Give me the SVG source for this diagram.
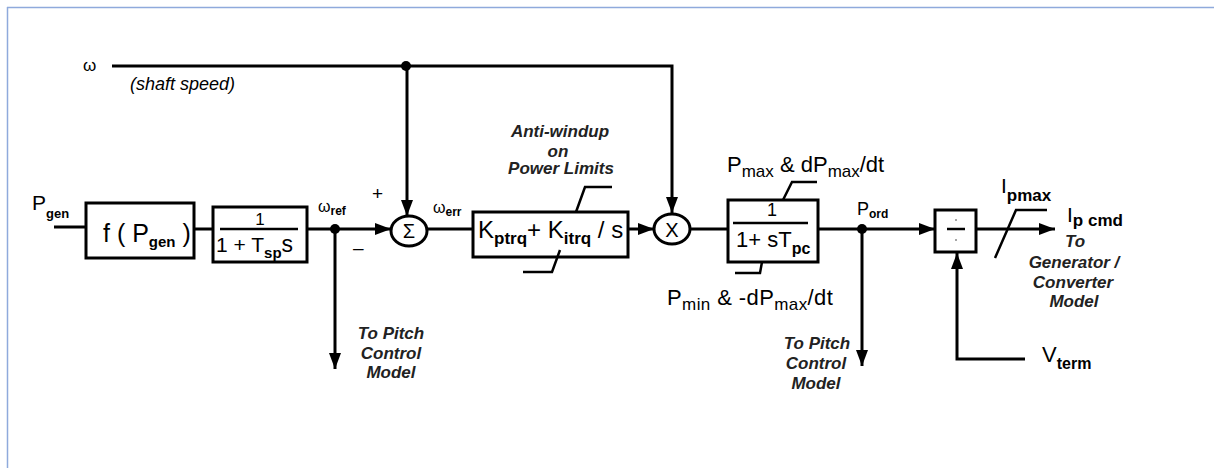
<svg xmlns="http://www.w3.org/2000/svg" width="1214" height="468" viewBox="0 0 1214 468">
<defs>
<marker id="ah" markerUnits="userSpaceOnUse" markerWidth="18" markerHeight="14" refX="16" refY="6" orient="auto">
<path d="M0,0 L16,6 L0,12 z" fill="#000"/>
</marker>
<style>
.ln{stroke:#000;stroke-width:3;fill:none}
.lim{stroke:#000;stroke-width:2.5;fill:none}
.bx{stroke:#000;stroke-width:3;fill:#fff}
.t{font-family:"Liberation Sans",Arial,sans-serif;fill:#000}
.it{font-family:"Liberation Sans",Arial,sans-serif;font-style:italic;font-weight:bold;font-size:17px;fill:#222}
</style>
</defs>
<rect width="1214" height="468" fill="#fff"/>
<g id="frame">
<line x1="7" y1="7.5" x2="1214" y2="7.5" stroke="#8faadc" stroke-width="1.5"/>
<line x1="7.5" y1="7" x2="7.5" y2="468" stroke="#8faadc" stroke-width="1.5"/>
</g>

<g id="connectors">
<polyline class="ln" points="112,66 672,66 672,213" marker-end="url(#ah)"/>
<line class="ln" x1="407" y1="66" x2="407" y2="216" marker-end="url(#ah)"/>
<circle cx="406" cy="66" r="5" fill="#000"/>
<line class="ln" x1="54" y1="227" x2="86" y2="227"/>
<line class="ln" x1="194" y1="229" x2="213" y2="229"/>
<line class="ln" x1="307" y1="229" x2="391" y2="229" marker-end="url(#ah)"/>
<circle cx="335" cy="229" r="5" fill="#000"/>
<line class="ln" x1="335" y1="229" x2="335" y2="369" marker-end="url(#ah)"/>
<line class="ln" x1="427" y1="229" x2="473" y2="229"/>
<line class="ln" x1="628" y1="229" x2="654" y2="229" marker-end="url(#ah)"/>
<line class="ln" x1="690" y1="229" x2="728" y2="229"/>
<line class="ln" x1="818" y1="229" x2="935" y2="229" marker-end="url(#ah)"/>
<circle cx="862" cy="229" r="5" fill="#000"/>
<line class="ln" x1="862" y1="229" x2="862" y2="366" marker-end="url(#ah)"/>
<line class="ln" x1="976" y1="229" x2="1055" y2="229" marker-end="url(#ah)"/>
<polyline class="ln" points="1025,359 957,359 957,253" marker-end="url(#ah)"/>
</g>

<g id="omega-input">
<text class="t" x="83" y="71" font-size="17">ω</text>
<text class="t" x="130" y="90" font-size="18" font-style="italic" fill="#222">(shaft speed)</text>
</g>

<g id="pgen-input">
<text class="t" x="32" y="210" font-size="21">P<tspan font-size="13" font-weight="bold" dy="8">gen</tspan></text>
</g>

<g id="f-block">
<rect class="bx" x="86" y="203" width="108" height="55"/>
<text class="t" x="103" y="242" font-size="25">f ( P<tspan font-size="15" font-weight="bold" dy="5">gen</tspan><tspan dy="-5"> )</tspan></text>
</g>

<g id="lag-block">
<rect class="bx" x="213" y="207" width="94" height="55"/>
<text class="t" x="260" y="225" font-size="17" text-anchor="middle">1</text>
<line x1="220" y1="229" x2="298" y2="229" stroke="#000" stroke-width="2.5"/>
<text class="t" x="216" y="252" font-size="21">1 + T<tspan font-size="15" font-weight="bold" dy="6">sp</tspan><tspan font-size="23" dy="-6">s</tspan></text>
</g>

<g id="wref-label">
<text class="t" x="318" y="212" font-size="16">ω<tspan font-size="12" font-weight="bold" dy="3">ref</tspan></text>
<text class="t" x="372" y="200" font-size="19">+</text>
<text class="t" x="353" y="254" font-size="19">–</text>
</g>

<g id="sum">
<ellipse class="bx" cx="409" cy="231" rx="18" ry="15"/>
<text class="t" x="409" y="238" font-size="20" text-anchor="middle">Σ</text>
</g>

<g id="werr-label">
<text class="t" x="433" y="213" font-size="16">ω<tspan font-size="12" font-weight="bold" dy="3">err</tspan></text>
</g>

<g id="pi-block">
<rect class="bx" x="473" y="212" width="155" height="45"/>
<text class="t" x="478" y="238" font-size="24">K<tspan font-size="17" font-weight="bold" dy="6">ptrq</tspan><tspan dy="-6">+ K</tspan><tspan font-size="17" font-weight="bold" dy="6">itrq</tspan><tspan dy="-6"> / s</tspan></text>
<polyline class="lim" points="576,212 585,187 612,187"/>
<polyline class="lim" points="560,250 552,272 523,272"/>
<text class="it" x="560" y="137" font-size="18" text-anchor="middle">Anti-windup</text>
<text class="it" x="558" y="157" font-size="18" text-anchor="middle">on</text>
<text class="it" x="561" y="174" font-size="18" text-anchor="middle">Power Limits</text>
</g>

<g id="multiplier">
<ellipse class="bx" cx="672" cy="229" rx="18" ry="15"/>
<text class="t" x="672" y="237" font-size="20" text-anchor="middle">X</text>
</g>

<g id="pc-block">
<rect class="bx" x="728" y="200" width="90" height="62"/>
<text class="t" x="772" y="216" font-size="18" text-anchor="middle">1</text>
<line x1="733" y1="223" x2="808" y2="223" stroke="#000" stroke-width="2.5"/>
<text class="t" x="736" y="247" font-size="22">1+ sT<tspan font-size="16" font-weight="bold" dy="7">pc</tspan></text>
<polyline class="lim" points="783,200 792,182 817,182"/>
<polyline class="lim" points="762,262 760,273 735,273"/>
<text class="t" x="727" y="172" font-size="22">P<tspan font-size="17" dy="5">max</tspan><tspan dy="-5"> &amp; dP</tspan><tspan font-size="17" dy="5">max</tspan><tspan dy="-5">/dt</tspan></text>
<text class="t" x="667" y="305" font-size="22" letter-spacing="0.4">P<tspan font-size="17" dy="5">min</tspan><tspan dy="-5"> &amp; -dP</tspan><tspan font-size="17" dy="5">max</tspan><tspan dy="-5">/dt</tspan></text>
</g>

<g id="pord-label">
<text class="t" x="857" y="215" font-size="18">P<tspan font-size="12" font-weight="bold" dy="3">ord</tspan></text>
</g>

<g id="pitch-out-1">
<text class="it" x="391" y="339" text-anchor="middle">To Pitch</text>
<text class="it" x="391" y="359" text-anchor="middle">Control</text>
<text class="it" x="391" y="378" text-anchor="middle">Model</text>
</g>

<g id="pitch-out-2">
<text class="it" x="817" y="349" text-anchor="middle">To Pitch</text>
<text class="it" x="816" y="369" text-anchor="middle">Control</text>
<text class="it" x="816" y="389" text-anchor="middle">Model</text>
</g>

<g id="divider">
<rect class="bx" x="935" y="210" width="41" height="42"/>
<line x1="947" y1="229" x2="965" y2="229" stroke="#000" stroke-width="2.5"/>
<circle cx="956" cy="220" r="1" fill="#888"/>
<circle cx="956" cy="240" r="1" fill="#888"/>
</g>

<g id="current-limit">
<polyline class="lim" points="995,258 1016,210 1047,210"/>
<text class="t" x="1001" y="193" font-size="21">I<tspan font-size="17" font-weight="bold" dy="8">pmax</tspan></text>
<text class="t" x="1067" y="222" font-size="21">I<tspan font-size="17" font-weight="bold" dy="4">p cmd</tspan></text>
<text class="it" x="1075" y="247" text-anchor="middle">To</text>
<text class="it" x="1074" y="268" text-anchor="middle">Generator /</text>
<text class="it" x="1073" y="288" text-anchor="middle">Converter</text>
<text class="it" x="1074" y="307" text-anchor="middle">Model</text>
</g>

<g id="vterm-input">
<text class="t" x="1042" y="362" font-size="22">V<tspan font-size="16" font-weight="bold" dy="7">term</tspan></text>
</g>
</svg>
